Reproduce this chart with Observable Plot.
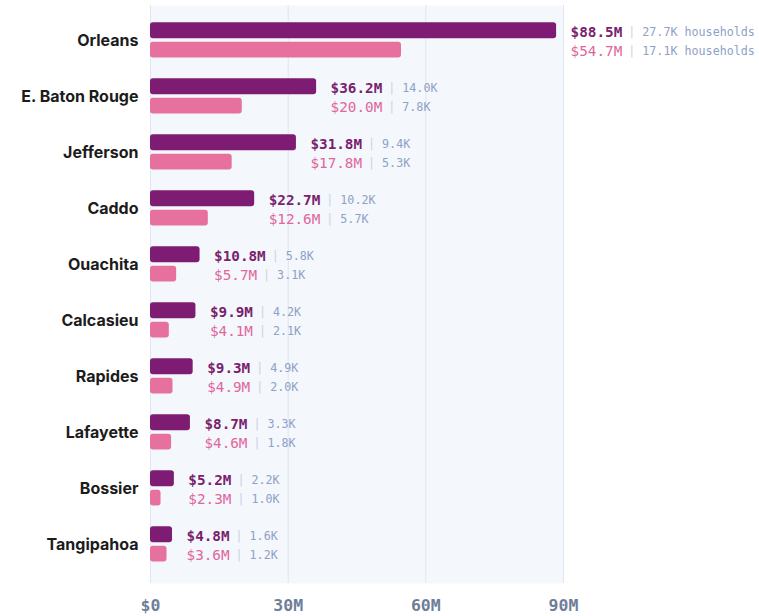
<!DOCTYPE html>
<html>
<head>
<meta charset="utf-8">
<script src="https://cdn.jsdelivr.net/npm/d3@7"></script>
<script src="https://cdn.jsdelivr.net/npm/@observablehq/plot@0.6"></script>
<style>
  html, body { margin: 0; padding: 0; background: #ffffff; }
  #chart svg { display: block; }
</style>
</head>
<body>
<div id="chart"></div>
<script>
const counties = ["Orleans", "E. Baton Rouge", "Jefferson", "Caddo", "Ouachita", "Calcasieu", "Rapides", "Lafayette", "Bossier", "Tangipahoa"];
const darkValues = [88.5, 36.2, 31.8, 22.7, 10.8, 9.9, 9.3, 8.7, 5.2, 4.8];
const darkHouseholds = ["27.7K households", "14.0K", "9.4K", "10.2K", "5.8K", "4.2K", "4.9K", "3.3K", "2.2K", "1.6K"];
const pinkValues = [54.7, 20.0, 17.8, 12.6, 5.7, 4.1, 4.9, 4.6, 2.3, 3.6];
const pinkHouseholds = ["17.1K households", "7.8K", "5.3K", "5.7K", "3.1K", "2.1K", "2.0K", "1.8K", "1.0K", "1.2K"];
const xTicks = [0, 30, 60, 90];
const xTickLabels = ["$0", "30M", "60M", "90M"];

const DARK = "#7e1b73";
const PINK = "#e6719f";
const DARK_TXT = "#7a1f6d";
const PINK_TXT = "#e0669c";
const HH_TXT = "#8ea1c6";
const PIPE_TXT = "#c9d3e3";
const MONO = "'DejaVu Sans Mono', monospace";
const VAL_FS = 14.3;
const HH_FS = 11.7;
const CHAR_W = 0.602 * VAL_FS;
const LABEL_DX = 14;

const fmt = v => "$" + v.toFixed(1) + "M";

const rows = counties.map((c, i) => ({
  county: c,
  dark: darkValues[i],
  pink: pinkValues[i],
  anchor: Math.max(darkValues[i], pinkValues[i]),
  darkLabel: fmt(darkValues[i]),
  pinkLabel: fmt(pinkValues[i]),
  darkHH: darkHouseholds[i],
  pinkHH: pinkHouseholds[i]
}));

function labelMarks(labelKey, hhKey, dy, color, weight) {
  const lens = [...new Set(rows.map(r => r[labelKey].length))];
  return lens.flatMap(n => {
    const sub = rows.filter(r => r[labelKey].length === n);
    const w = n * CHAR_W;
    return [
      Plot.text(sub, {
        x: "anchor", y: "county", text: labelKey, dx: LABEL_DX, dy,
        textAnchor: "start", fill: color, fontWeight: weight, fontSize: VAL_FS, fontFamily: MONO
      }),
      Plot.text(sub, {
        x: "anchor", y: "county", text: () => "|", dx: LABEL_DX + w + 9.5, dy,
        textAnchor: "middle", fill: PIPE_TXT, fontSize: HH_FS, fontFamily: MONO
      }),
      Plot.text(sub, {
        x: "anchor", y: "county", text: hhKey, dx: LABEL_DX + w + 20, dy,
        textAnchor: "start", fill: HH_TXT, fontSize: HH_FS, fontFamily: MONO
      })
    ];
  });
}

const bandStep = 56.3;
const y0 = 10.85;

const chart = Plot.plot({
  width: 759,
  height: 616,
  marginLeft: 150,
  marginRight: 196,
  marginTop: 5,
  marginBottom: 33,
  style: { background: "#ffffff", overflow: "visible" },
  x: { domain: [0, 90], range: [150, 563] },
  y: { domain: counties, range: [y0, y0 + bandStep * counties.length], padding: 0 },
  marks: [
    Plot.frame({ fill: "#f4f7fc", stroke: null }),
    Plot.ruleX(xTicks, { stroke: "#e0e6ef", strokeWidth: 1 }),
    Plot.axisX({
      ticks: xTicks,
      tickFormat: d => xTickLabels[xTicks.indexOf(d)],
      tickSize: 0,
      tickPadding: 16,
      fontSize: 16.5,
      fontWeight: 700,
      fontFamily: MONO,
      color: "#6f7e98",
      label: null
    }),
    Plot.axisY({
      tickSize: 0,
      tickPadding: 12,
      fontSize: 16,
      fontWeight: 700,
      fontFamily: "Inter, 'Noto Sans', sans-serif",
      color: "#1c1c1c",
      label: null
    }),
    Plot.barX(rows, {
      x: "dark", y: "county", fill: DARK, rx: 3,
      insetTop: 10.15, insetBottom: 29.85
    }),
    Plot.barX(rows, {
      x: "pink", y: "county", fill: PINK, rx: 3,
      insetTop: 29.85, insetBottom: 10.45
    }),
    ...labelMarks("darkLabel", "darkHH", -8, DARK_TXT, 700),
    ...labelMarks("pinkLabel", "pinkHH", 11, PINK_TXT, 400)
  ]
});

document.getElementById("chart").appendChild(chart);
</script>
</body>
</html>
